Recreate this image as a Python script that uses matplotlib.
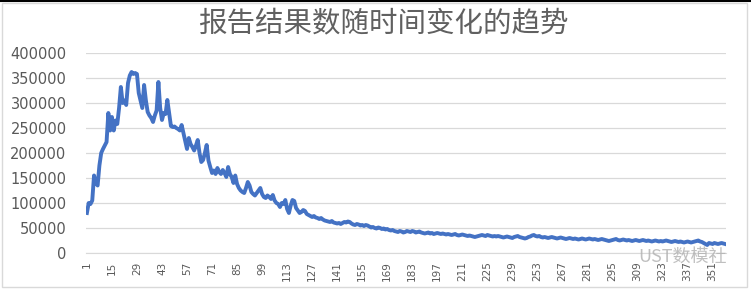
import matplotlib.pyplot as plt
from matplotlib.patches import Rectangle

plt.rcParams['font.family'] = ['Noto Sans CJK SC', 'DejaVu Sans']

# 每天的报告结果数 (第1天 ~ 第358天)
counts = [
    80000, 100000, 98000, 105000, 155000, 140000, 135000, 175000, 200000, 208000,
    215000, 222000, 280000, 245000, 272000, 245000, 265000, 258000, 290000, 332000,
    300000, 305000, 296000, 340000, 355000, 362000, 358000, 360000, 358000, 320000,
    305000, 290000, 336000, 305000, 282000, 275000, 270000, 262000, 275000, 285000,
    342000, 290000, 266000, 280000, 278000, 306000, 280000, 254000, 252000, 253000,
    250000, 248000, 245000, 256000, 240000, 225000, 208000, 230000, 218000, 212000,
    205000, 215000, 226000, 200000, 182000, 186000, 200000, 216000, 185000, 172000,
    160000, 165000, 158000, 170000, 162000, 158000, 166000, 160000, 152000, 172000,
    158000, 152000, 140000, 155000, 138000, 130000, 125000, 122000, 120000, 130000,
    142000, 135000, 122000, 118000, 115000, 120000, 125000, 130000, 118000, 112000,
    110000, 115000, 112000, 108000, 116000, 105000, 100000, 98000, 92000, 100000,
    98000, 106000, 88000, 80000, 95000, 106000, 104000, 90000, 85000, 80000,
    82000, 86000, 84000, 78000, 76000, 74000, 72000, 74000, 71000, 70000,
    68000, 70000, 67000, 65000, 64000, 63000, 62000, 64000, 61000, 60000,
    59000, 60000, 58000, 60000, 62000, 61000, 63000, 62000, 59000, 57000,
    56000, 58000, 57000, 55000, 56000, 54000, 56000, 55000, 53000, 51000,
    52000, 50000, 49000, 51000, 50000, 48000, 49000, 47000, 48000, 46000,
    45000, 46000, 44000, 43000, 42000, 44000, 43000, 41000, 42000, 44000,
    43000, 42000, 44000, 43000, 41000, 42000, 43000, 41000, 40000, 39000,
    40000, 41000, 39000, 40000, 38000, 39000, 40000, 39000, 38000, 39000,
    38000, 37000, 38000, 37000, 36000, 37000, 38000, 36000, 35000, 36000,
    37000, 36000, 35000, 34000, 35000, 34000, 33000, 32000, 33000, 34000,
    35000, 36000, 35000, 34000, 36000, 35000, 34000, 33000, 34000, 33000,
    34000, 33000, 32000, 31000, 32000, 33000, 32000, 31000, 30000, 32000,
    33000, 34000, 32000, 31000, 30000, 29000, 30000, 32000, 33000, 35000,
    36000, 34000, 33000, 34000, 32000, 31000, 32000, 31000, 30000, 31000,
    32000, 31000, 30000, 29000, 30000, 31000, 30000, 29000, 28000, 29000,
    30000, 29000, 28000, 29000, 28000, 27000, 28000, 29000, 28000, 27000,
    28000, 29000, 28000, 27000, 28000, 27000, 26000, 27000, 28000, 27000,
    26000, 25000, 24000, 25000, 26000, 27000, 28000, 26000, 25000, 26000,
    27000, 26000, 25000, 26000, 25000, 24000, 25000, 26000, 25000, 24000,
    25000, 26000, 25000, 24000, 25000, 24000, 23000, 24000, 25000, 24000,
    23000, 24000, 23000, 24000, 25000, 24000, 23000, 22000, 23000, 24000,
    23000, 22000, 23000, 22000, 21000, 22000, 23000, 22000, 21000, 22000,
    23000, 24000, 25000, 23000, 22000, 20000, 18000, 16000, 20000, 19000,
    18000, 20000, 19000, 18000, 19000, 20000, 19000, 18000,
]
days = list(range(1, len(counts) + 1))
xticks = list(range(1, 352, 14))
yticks = list(range(0, 400001, 50000))

W, H = 751, 289
fig = plt.figure(figsize=(W / 100, H / 100), dpi=100)
ax = fig.add_axes([86 / W, 1 - 253 / H, 640 / W, 200 / H])

ax.plot(days, counts, color='#4472C4', lw=2.8, solid_joinstyle='round')

ax.set_xlim(0.5, len(counts) + 0.5)
ax.set_ylim(0, 400000)
ax.set_xticks(xticks)
ax.set_xticklabels([str(t) for t in xticks], rotation=90, fontsize=7.5,
                   color='#595959', family='DejaVu Sans')
ax.set_yticks(yticks)
ax.set_yticklabels([str(t) for t in yticks], fontsize=10.5, color='#595959',
                   family='DejaVu Sans')
ax.tick_params(axis='both', length=0)
ax.tick_params(axis='y', pad=14)
ax.tick_params(axis='x', pad=6)
ax.grid(axis='y', color='#d9d9d9', lw=0.9)
ax.set_axisbelow(True)
for s in ['top', 'right', 'left']:
    ax.spines[s].set_visible(False)
ax.spines['bottom'].set_color('#d9d9d9')

fig.text(383 / W, 1 - 23 / H, '报告结果数随时间变化的趋势', ha='center', va='center',
         fontsize=20.5, color='#606060', fontweight='light')

# 外框
fig.patches.append(Rectangle((2 / W, 2 / H), 745 / W, 284 / H, transform=fig.transFigure,
                             fill=False, edgecolor='#d9d9d9', lw=1))
fig.lines.append(plt.Line2D([0, 1], [1 - 0.5 / H, 1 - 0.5 / H], transform=fig.transFigure,
                            color='black', lw=1.5))

# 水印
fig.text(727 / W, 1 - 257 / H, 'UST数模社', ha='right', va='center', fontsize=13,
         color='#b0b0b0', alpha=0.8)

fig.savefig('out.png', dpi=100)
